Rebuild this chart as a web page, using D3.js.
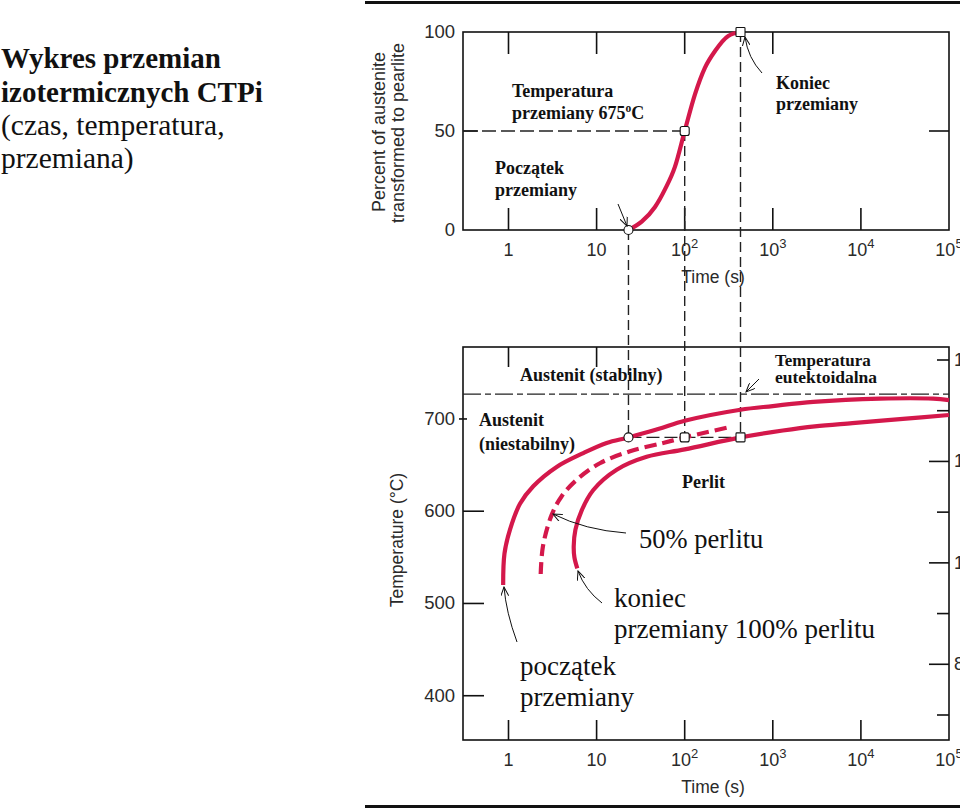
<!DOCTYPE html>
<html><head><meta charset="utf-8">
<script src="https://cdn.jsdelivr.net/npm/d3@7"></script>
<style>
html,body{margin:0;padding:0;background:#fff;overflow:hidden}
svg{display:block}
.ax{font-family:"Liberation Sans",Arial,sans-serif;fill:#2a2a2a}
.ann{font-family:"Liberation Serif","Times New Roman",serif;fill:#111}
</style></head><body>
<script>
// ---------- data ----------
const timeTicks = [1, 10, 100, 1000, 10000, 100000];
const timeTickLabels = [["1",""],["10",""],["10","2"],["10","3"],["10","4"],["10","5"]];
const percentTicks = [0, 50, 100];
const tempTicks = [400, 500, 600, 700];
const fahrTicks = [700, 800, 900, 1000, 1100, 1200, 1300, 1400];
const fahrLabelTicks = [1400, 1200, 1000, 800];
const fahrLongTicks = [1200, 1000, 800];

// isothermal transformation at the marked temperature
const isoTime = [23, 32.5, 46, 59.7, 77.6, 100, 131, 170, 221, 312, 430];
const isoPercent = [0, 4.2, 11.6, 20.5, 32, 50, 68.6, 82, 90.4, 98, 100];
const keyTimes = [23, 100, 430];       // start, 50 %, end
const keyPercents = [0, 50, 100];
const isoTemp = 680;
const eutectoidTemp = 727;

// TTT curves
const startTime = [0.87, 0.9, 1.04, 1.35, 1.91, 3.52, 7.06, 13, 23, 50, 100, 430, 1000, 2880, 16500, 66000, 100000];
const startTemp = [520, 554, 580, 608, 627, 648, 663, 674, 680, 689, 698, 710, 714, 718.5, 722, 722, 720.5];
const halfTime = [2.32, 2.46, 3.09, 4.0, 5.94, 10.9, 24, 57, 100, 300];
const halfTemp = [532, 562, 596, 616, 634, 652, 665, 674, 680, 690.5];
const endTime = [6.04, 5.6, 5.5, 5.75, 6.78, 9.18, 16.9, 37, 100, 430, 1300, 3000, 8000, 30000, 100000];
const endTemp = [538, 550, 562, 580, 601, 623, 645, 659, 667, 680, 687.5, 692, 695.5, 700, 704.3];

// ---------- drawing ----------
const W = 960, H = 811;
const red = "#d4184b";
const svg = d3.select("body").append("svg").attr("width", W).attr("height", H);

svg.append("defs").append("marker").attr("id","arr").attr("viewBox","0 0 10 8")
  .attr("refX",9).attr("refY",4).attr("markerWidth",10).attr("markerHeight",8)
  .attr("markerUnits","userSpaceOnUse").attr("orient","auto")
  .append("path").attr("d","M0,0 L9,4 L0,8").attr("fill","none").attr("stroke","#111").attr("stroke-width",1);

const x = d3.scaleLog().domain([0.3045, 1e5]).range([463, 949]);
const yTop = d3.scaleLinear().domain([0, 100]).range([230, 32]);
const yBot = d3.scaleLinear().domain([352, 778]).range([740, 347]);
const yF = d3.scaleLinear().domain([700, 1400]).range([715, 360]);

// black rules
svg.append("line").attr("x1",365).attr("x2",960).attr("y1",2.5).attr("y2",2.5).attr("stroke","#111").attr("stroke-width",3);
svg.append("line").attr("x1",365).attr("x2",960).attr("y1",806.5).attr("y2",806.5).attr("stroke","#111").attr("stroke-width",3);

// title
[["Wykres przemian",68,"bold"],["izotermicznych CTPi",102,"bold"],["(czas, temperatura,",135,"normal"],["przemiana)",168,"normal"]]
 .forEach(([t,yy,w])=>svg.append("text").attr("class","ann").attr("x",1).attr("y",yy).attr("font-size",w==="bold"?29:29.5).attr("font-weight",w).text(t));

function frame(y0, y1){
  svg.append("rect").attr("x",463).attr("y",y0).attr("width",486).attr("height",y1-y0)
    .attr("fill","none").attr("stroke","#111").attr("stroke-width",1.6);
}
function tickLabelX(yy){
  timeTicks.forEach((t,i)=>{
    const [b,s] = timeTickLabels[i];
    const tx = svg.append("text").attr("class","ax").attr("x",x(t)).attr("y",yy).attr("font-size",18).attr("text-anchor","middle");
    tx.append("tspan").text(b);
    if (s) tx.append("tspan").attr("dy",-8).attr("font-size",13).text(s);
  });
}
function vtick(xx, y0, y1){ svg.append("line").attr("x1",xx).attr("x2",xx).attr("y1",y0).attr("y2",y1).attr("stroke","#111").attr("stroke-width",1.6); }
function htick(y, x0, x1){ svg.append("line").attr("x1",x0).attr("x2",x1).attr("y1",y).attr("y2",y).attr("stroke","#111").attr("stroke-width",1.6); }

// ===== top chart =====
frame(yTop(100), yTop(0));
[1,10,100,1000].forEach(t=>vtick(x(t), yTop(100), yTop(100)+22));
[1,10,100,1000,10000].forEach(t=>vtick(x(t), yTop(0), yTop(0)-22));
htick(yTop(50), 463, 478);
htick(yTop(50), 949, 929);
percentTicks.forEach(p=>svg.append("text").attr("class","ax").attr("x",455).attr("y",yTop(p)+6).attr("font-size",18.5).attr("text-anchor","end").text(p));
tickLabelX(256);
svg.append("text").attr("class","ax").attr("x",713).attr("y",283).attr("font-size",17.5).attr("text-anchor","middle").text("Time (s)");
svg.append("text").attr("class","ax").attr("font-size",18).attr("text-anchor","middle")
  .attr("transform",`translate(385,132) rotate(-90)`).text("Percent of austenite");
svg.append("text").attr("class","ax").attr("font-size",18).attr("text-anchor","middle")
  .attr("transform",`translate(404,133) rotate(-90)`).text("transformed to pearlite");

// ===== bottom chart =====
frame(yBot(778), yBot(352));
[1,10].forEach(t=>vtick(x(t), yBot(778), yBot(778)+20));
[1,10,100,1000,10000].forEach(t=>vtick(x(t), yBot(352), yBot(352)-20));
[400,500,600].forEach(T=>htick(yBot(T), 463, 484));
htick(yBot(700), 459, 467);
tempTicks.forEach(T=>svg.append("text").attr("class","ax").attr("x",455).attr("y",yBot(T)+6).attr("font-size",18.5).attr("text-anchor","end").text(T));
fahrTicks.forEach(F=>htick(yF(F), 949, fahrLongTicks.includes(F)? 929 : 937));
fahrLabelTicks.forEach(F=>svg.append("text").attr("class","ax").attr("x",954).attr("y",yF(F)+6).attr("font-size",18).text(F));
tickLabelX(766);
svg.append("text").attr("class","ax").attr("x",713).attr("y",793).attr("font-size",17.5).attr("text-anchor","middle").text("Time (s)");
svg.append("text").attr("class","ax").attr("font-size",17.5).attr("text-anchor","middle")
  .attr("transform",`translate(403,540) rotate(-90)`).text("Temperature (°C)");

// eutectoid line
svg.append("line").attr("x1",463).attr("x2",949).attr("y1",yBot(eutectoidTemp)).attr("y2",yBot(eutectoidTemp))
  .attr("stroke","#222").attr("stroke-width",1.3).attr("stroke-dasharray","18,4,6,4");

// dashed construction lines
const dashStyle = sel => sel.attr("stroke","#222").attr("stroke-width",1.4);
svg.append("line").attr("x1",463).attr("x2",x(keyTimes[1])).attr("y1",yTop(50)).attr("y2",yTop(50)).call(dashStyle).attr("stroke-dasharray","14,5");
keyTimes.forEach((t,i)=>{
  svg.append("line").attr("x1",x(t)).attr("x2",x(t)).attr("y1",yTop(keyPercents[i])).attr("y2",yBot(isoTemp))
    .call(dashStyle).attr("stroke-dasharray","10,5");
});
svg.append("line").attr("x1",x(keyTimes[0])).attr("x2",x(keyTimes[2])).attr("y1",yBot(isoTemp)).attr("y2",yBot(isoTemp))
  .call(dashStyle).attr("stroke-dasharray","13,5");

// curves
const lineTop = d3.line().x(d=>x(d[0])).y(d=>yTop(d[1])).curve(d3.curveMonotoneX);
svg.append("path").attr("d", lineTop(d3.zip(isoTime, isoPercent))).attr("fill","none").attr("stroke",red).attr("stroke-width",4.2).attr("stroke-linecap","round");
const lineBot = d3.line().x(d=>x(d[0])).y(d=>yBot(d[1])).curve(d3.curveCatmullRom.alpha(0.5));
svg.append("path").attr("d", lineBot(d3.zip(startTime, startTemp))).attr("fill","none").attr("stroke",red).attr("stroke-width",4.2);
svg.append("path").attr("d", lineBot(d3.zip(halfTime, halfTemp))).attr("fill","none").attr("stroke",red).attr("stroke-width",4.2).attr("stroke-dasharray","12,6");
svg.append("path").attr("d", lineBot(d3.zip(endTime, endTemp))).attr("fill","none").attr("stroke",red).attr("stroke-width",4.2);

// markers
function mark(cx, cy, rx){
  svg.append("rect").attr("x",cx-4.5).attr("y",cy-4.5).attr("width",9).attr("height",9).attr("rx",rx)
    .attr("fill","#fff").attr("stroke","#111").attr("stroke-width",1.1);
}
const rxs = [4.5, 2, 0.8];
keyTimes.forEach((t,i)=>{ mark(x(t), yTop(keyPercents[i]), rxs[i]); mark(x(t), yBot(isoTemp), rxs[i]); });

// annotations
function ann(t, xx, yy, size, weight){
  return svg.append("text").attr("class","ann").attr("x",xx).attr("y",yy).attr("font-size",size).attr("font-weight",weight||"normal").text(t);
}
ann("Temperatura", 512, 97, 18, "bold");
const t675 = svg.append("text").attr("class","ann").attr("x",512).attr("y",119).attr("font-size",18).attr("font-weight","bold");
t675.append("tspan").text("przemiany 675");
t675.append("tspan").attr("dy",-7).attr("font-size",11.5).text("o");
t675.append("tspan").attr("dy",7).text("C");
ann("Koniec", 776, 89, 18, "bold");
ann("przemiany", 776, 110, 18, "bold");
ann("Początek", 495, 174, 18, "bold");
ann("przemiany", 495, 196, 18, "bold");

ann("Austenit (stabilny)", 520, 381, 18, "bold");
ann("Temperatura", 775, 366, 17, "bold");
ann("eutektoidalna", 775, 383, 17.5, "bold");
ann("Austenit", 479, 426, 18, "bold");
ann("(niestabilny)", 479, 450, 18, "bold");
ann("Perlit", 682, 488, 18, "bold");

ann("50% perlitu", 639, 548, 26.5);
ann("koniec", 614, 607, 27);
ann("przemiany 100% perlitu", 614, 638, 27);
ann("początek", 520, 675, 27);
ann("przemiany", 520, 706, 27);

// arrows
function arrow(d){ svg.append("path").attr("d",d).attr("fill","none").attr("stroke","#111").attr("stroke-width",1).attr("marker-end","url(#arr)"); }
arrow("M762,73 Q748,58 745,37");
arrow("M618,204 L627,226");
arrow("M759,379 L746,392");
arrow("M626,533 Q585,530 553,514");
arrow("M602,603 Q585,590 578,571");
arrow("M517,642 Q506,612 504,587");
</script>
</body></html>
